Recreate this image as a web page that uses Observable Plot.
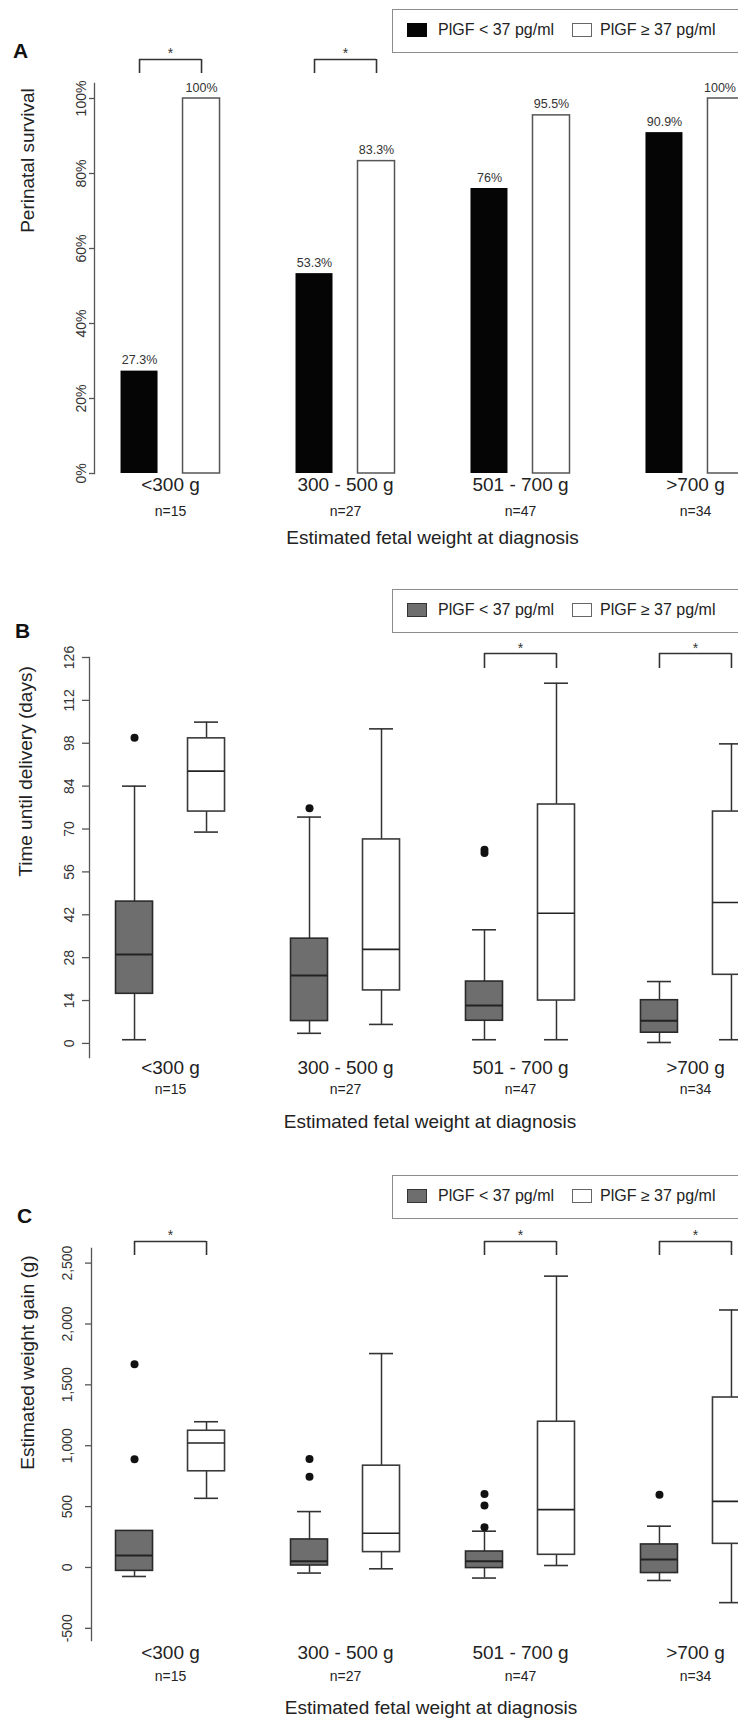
<!DOCTYPE html>
<html>
<head>
<meta charset="utf-8">
<script src="https://cdn.jsdelivr.net/npm/d3@7"></script>
<script src="https://cdn.jsdelivr.net/npm/@observablehq/plot@0.6"></script>
<style>
  html, body { margin: 0; padding: 0; background: #fff; overflow: hidden; }
  #fig { position: relative; width: 738px; height: 1725px; overflow: hidden; font-family: "Liberation Sans", Arial, sans-serif; color: #222; }
  .panel { position: absolute; left: 0; }
  .panel svg { max-width: none !important; }
  .letter { position: absolute; font-weight: bold; font-size: 21px; line-height: 1; color: #111; }
  .legend { position: absolute; left: 392px; width: 380px; height: 44px; border: 1.5px solid #8c8c8c; box-sizing: border-box; background: #fff; }
  .sw { position: absolute; top: 13px; width: 20px; height: 14px; box-sizing: border-box; }
  .lt { position: absolute; top: 11px; font-size: 16px; line-height: 18px; white-space: nowrap; color: #222; }
</style>
</head>
<body>
<div id="fig"></div>
<script>
// ---------- data ----------
const groups = ["<300 g", "300 - 500 g", "501 - 700 g", ">700 g"];
const groupN = ["n=15", "n=27", "n=47", "n=34"];
const seriesNames = ["PlGF < 37 pg/ml", "PlGF \u2265 37 pg/ml"];
const xTitle = "Estimated fetal weight at diagnosis";

// Panel A: perinatal survival (%)
const survivalLow = [27.3, 53.3, 76, 90.9];
const survivalHigh = [100, 83.3, 95.5, 100];
const survivalSig = [true, true, false, false];
const survivalTicks = [0, 20, 40, 60, 80, 100];
const survivalTickLabels = ["0%", "20%", "40%", "60%", "80%", "100%"];

// Panel B: time until delivery (days); stats = [lower whisker, Q1, median, Q3, upper whisker]
const daysLowStats = [[1.2, 16.2, 29, 46.3, 84], [3.3, 7.3, 22.2, 34.2, 73.9], [1.2, 7.4, 12.4, 20.2, 37.1], [0.3, 3.5, 7.4, 14.1, 20.2]];
const daysLowOutliers = [[99.8], [76.8], [62.2, 63.2], []];
const daysHighStats = [[69, 75.7, 88.9, 99.6, 104.9], [6.2, 17.3, 30.7, 66.6, 102.7], [1.2, 14, 42.5, 78, 117.6], [1.2, 22.4, 46, 75.7, 97.8]];
const daysHighOutliers = [[], [], [], []];
const daysSig = [false, false, true, true];
const daysTicks = [0, 14, 28, 42, 56, 70, 84, 98, 112, 126];
const daysTickLabels = ["0", "14", "28", "42", "56", "70", "84", "98", "112", "126"];

// Panel C: estimated weight gain (g)
const gainLowStats = [[-74, -28, 98, 300, 300], [-46, 16, 52, 230, 459], [-87, -5, 52, 131, 298], [-107, -46, 66, 189, 339]];
const gainLowOutliers = [[888, 1670], [746, 891], [331, 508, 604], [598]];
const gainHighStats = [[568, 790, 1022, 1123, 1197], [-11, 126, 281, 836, 1757], [16, 104, 475, 1197, 2393], [-289, 194, 543, 1396, 2115]];
const gainHighOutliers = [[], [], [], []];
const gainSig = [true, false, true, true];
const gainTicks = [-500, 0, 500, 1000, 1500, 2000, 2500];
const gainTickLabels = ["-500", "0", "500", "1,000", "1,500", "2,000", "2,500"];

// ---------- layout ----------
const W = 775;
const X_RANGE = [108, 757];
const PAD_INNER = 0.291;
const STEP = (X_RANGE[1] - X_RANGE[0]) / (groups.length - PAD_INNER);
const BW = STEP * (1 - PAD_INNER);
function ins(off, w) { return {insetLeft: BW / 2 + off - w / 2, insetRight: BW / 2 - off - w / 2}; }

const fig = document.getElementById("fig");
const FONT = "'Liberation Sans', Arial, sans-serif";

function addLetter(t, left, top) {
  const d = document.createElement("div");
  d.className = "letter"; d.textContent = t;
  d.style.left = left + "px"; d.style.top = top + "px";
  fig.appendChild(d);
}
function addLegend(top, lowColor, lowBorder) {
  const box = document.createElement("div");
  box.className = "legend"; box.style.top = top + "px";
  const items = [
    {left: 14, fill: lowColor, border: lowBorder, text: seriesNames[0], tl: 45},
    {left: 179, fill: "#fff", border: "1.3px solid #666", text: seriesNames[1], tl: 207}
  ];
  for (const it of items) {
    const s = document.createElement("span");
    s.className = "sw"; s.style.left = it.left + "px"; s.style.background = it.fill; s.style.border = it.border;
    box.appendChild(s);
    const t = document.createElement("span");
    t.className = "lt"; t.style.left = it.tl + "px"; t.textContent = it.text;
    box.appendChild(t);
  }
  fig.appendChild(box);
}

function makePanel(cfg) {
  const height = cfg.svgBottom - cfg.svgTop;
  const marginTop = cfg.frameTop - cfg.svgTop;
  const marginBottom = cfg.svgBottom - cfg.frameBottom;
  const [d0, d1] = cfg.yDomain;
  const yAt = px => d0 + (cfg.frameBottom - px) / (cfg.frameBottom - cfg.frameTop) * (d1 - d0);
  const off = cfg.offset;
  const sigRows = groups.filter((g, i) => cfg.sig[i]).map(g => ({group: g}));
  const yTop = yAt(cfg.bracket[0]), yBot = yAt(cfg.bracket[1]), yStar = yAt(cfg.bracket[2] + 3);
  const marks = [
    Plot.frame({anchor: "left", stroke: "#555", strokeWidth: 1.3}),
    Plot.axisY({ticks: cfg.ticks, tickSize: cfg.tickSize, tickFormat: () => "", label: null, stroke: "#555", strokeWidth: 1.3}),
    Plot.text(cfg.ticks, {y: d => d, text: (d, i) => cfg.tickLabels[i], frameAnchor: "left", textAnchor: "middle", rotate: -90, dx: cfg.tickDx, fontSize: 14, fill: "#333"}),
    Plot.text([cfg.yTitle], {frameAnchor: "left", textAnchor: "middle", rotate: -90, dx: cfg.yTitlePos[0], dy: cfg.yTitlePos[1], fontSize: 19, fill: "#222"}),
    Plot.text(groups, {x: d => d, frameAnchor: "bottom", dy: cfg.labDy[0], fontSize: 19, fill: "#222"}),
    Plot.text(groups, {x: d => d, text: (d, i) => groupN[i], frameAnchor: "bottom", dy: cfg.labDy[1], fontSize: 14, fill: "#222"}),
    Plot.text([xTitle], {frameAnchor: "bottom", dy: cfg.labDy[2], fontSize: 19, fill: "#222"}),
    // significance brackets
    Plot.ruleY(sigRows, {x1: "group", x2: "group", y: () => yTop, ...ins(0, 2 * off), stroke: "#333", strokeWidth: 1.6}),
    Plot.ruleX(sigRows, {x: "group", y1: () => yTop, y2: () => yBot, dx: -off, stroke: "#333", strokeWidth: 1.6}),
    Plot.ruleX(sigRows, {x: "group", y1: () => yTop, y2: () => yBot, dx: off, stroke: "#333", strokeWidth: 1.6}),
    Plot.text(sigRows, {x: "group", y: () => yStar, text: () => "*", fontSize: 14, fill: "#333"}),
    ...cfg.marks
  ];
  const svg = Plot.plot({
    width: W, height,
    marginLeft: cfg.marginLeft, marginRight: W - 770, marginTop, marginBottom,
    style: {fontFamily: FONT, fontSize: "14px", background: "transparent", color: "#333", overflow: "visible", maxWidth: "none"},
    x: {type: "band", domain: groups, range: X_RANGE, paddingInner: PAD_INNER, paddingOuter: 0, round: false, axis: null},
    y: {domain: cfg.yDomain, axis: null},
    marks
  });
  svg.style.maxWidth = "none";
  svg.style.width = W + "px";
  svg.style.height = height + "px";
  const wrap = document.createElement("div");
  wrap.className = "panel"; wrap.style.top = cfg.svgTop + "px";
  wrap.appendChild(svg);
  fig.appendChild(wrap);
}

function boxMarks(stats, outliers, off, dark) {
  const rows = groups.map((g, i) => ({group: g, lo: stats[i][0], q1: stats[i][1], med: stats[i][2], q3: stats[i][3], hi: stats[i][4]}));
  const outs = groups.flatMap((g, i) => outliers[i].map(v => ({group: g, value: v})));
  const lineCol = "#333";
  return [
    Plot.ruleX(rows, {x: "group", y1: "q3", y2: "hi", dx: off, stroke: lineCol, strokeWidth: 1.5}),
    Plot.ruleX(rows, {x: "group", y1: "lo", y2: "q1", dx: off, stroke: lineCol, strokeWidth: 1.5}),
    Plot.ruleY(rows, {x1: "group", x2: "group", y: "hi", ...ins(off, 24), stroke: lineCol, strokeWidth: 1.6}),
    Plot.ruleY(rows, {x1: "group", x2: "group", y: "lo", ...ins(off, 24), stroke: lineCol, strokeWidth: 1.6}),
    Plot.barY(rows, {x: "group", y1: "q1", y2: "q3", ...ins(off, 37), fill: dark ? "#6e6e6e" : "#fff", stroke: dark ? "#2a2a2a" : "#3a3a3a", strokeWidth: 1.6}),
    Plot.ruleY(rows, {x1: "group", x2: "group", y: "med", ...ins(off, 37), stroke: "#222", strokeWidth: dark ? 2 : 1.6}),
    Plot.dot(outs, {x: "group", y: "value", dx: off, r: 4, fill: "#111", stroke: null})
  ];
}

// ---------- Panel A ----------
const rowsLowA = groups.map((g, i) => ({group: g, value: survivalLow[i], label: survivalLow[i] + "%"}));
const rowsHighA = groups.map((g, i) => ({group: g, value: survivalHigh[i], label: survivalHigh[i] + "%"}));
makePanel({
  svgTop: 30, svgBottom: 560, frameTop: 83, frameBottom: 473, marginLeft: 94,
  yDomain: [0, 104], ticks: survivalTicks, tickLabels: survivalTickLabels, tickSize: 5, tickDx: -13,
  yTitle: "Perinatal survival", yTitlePos: [-67, -118],
  labDy: [17, 42, 70], offset: 31, sig: survivalSig, bracket: [59, 73, 50],
  marks: [
    Plot.barY(rowsLowA, {x: "group", y: "value", ...ins(-31, 37), fill: "#050505"}),
    Plot.barY(rowsHighA, {x: "group", y: "value", ...ins(31, 37), fill: "#fff", stroke: "#555", strokeWidth: 1.5}),
    Plot.text(rowsLowA, {x: "group", y: "value", text: "label", dx: -31, dy: -11, fontSize: 12.5, fill: "#333"}),
    Plot.text(rowsHighA, {x: "group", y: "value", text: "label", dx: 31, dy: -11, fontSize: 12.5, fill: "#333"})
  ]
});
addLetter("A", 13, 40);
addLegend(9, "#050505", "none");

// ---------- Panel B ----------
makePanel({
  svgTop: 628, svgBottom: 1145, frameTop: 657, frameBottom: 1057, marginLeft: 89,
  yDomain: [-4.6, 126], ticks: daysTicks, tickLabels: daysTickLabels, tickSize: 7, tickDx: -20,
  yTitle: "Time until delivery (days)", yTitlePos: [-64, -86],
  labDy: [16, 36, 70], offset: 36, sig: daysSig, bracket: [653, 668, 645],
  marks: [
    ...boxMarks(daysLowStats, daysLowOutliers, -36, true),
    ...boxMarks(daysHighStats, daysHighOutliers, 36, false)
  ]
});
addLetter("B", 15, 620);
addLegend(589, "#6e6e6e", "1px solid #333");

// ---------- Panel C ----------
makePanel({
  svgTop: 1215, svgBottom: 1725, frameTop: 1248, frameBottom: 1640, marginLeft: 91,
  yDomain: [-600, 2620], ticks: gainTicks, tickLabels: gainTickLabels, tickSize: 6, tickDx: -24,
  yTitle: "Estimated weight gain (g)", yTitlePos: [-64, -82],
  labDy: [18, 40, 73], offset: 36, sig: gainSig, bracket: [1241, 1255, 1232],
  marks: [
    ...boxMarks(gainLowStats, gainLowOutliers, -36, true),
    ...boxMarks(gainHighStats, gainHighOutliers, 36, false)
  ]
});
addLetter("C", 17, 1205);
addLegend(1175, "#6e6e6e", "1px solid #333");

// keep every text label inside the visible 738px page
const pageRight = fig.getBoundingClientRect().right - 2;
document.querySelectorAll("#fig svg text").forEach(t => {
  const r = t.getBoundingClientRect();
  if (r.width > 0 && r.height > 0 && r.right > pageRight && r.width < r.height * 6) {
    t.setAttribute("dx", String(-(r.right - pageRight)));
  }
});
</script>
</body>
</html>
